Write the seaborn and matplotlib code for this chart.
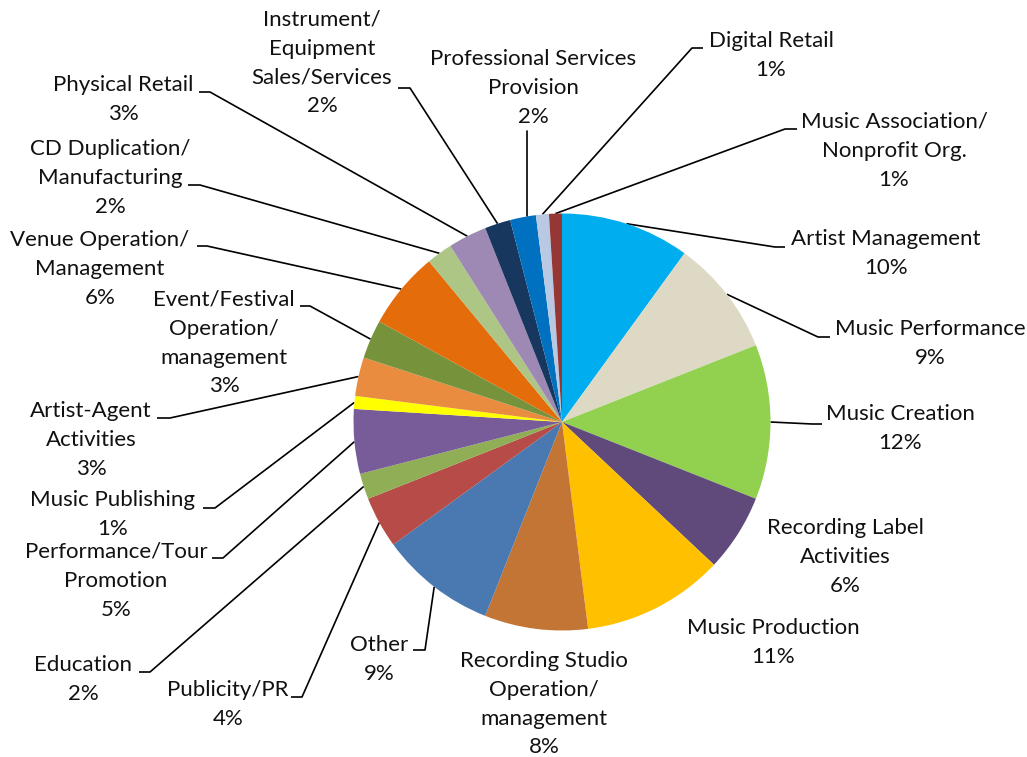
import numpy as np
import matplotlib
matplotlib.use("Agg")
import matplotlib.pyplot as plt
import seaborn as sns

# Share of music-industry businesses by main activity (clockwise from 12 o'clock)
categories = [
    "Artist Management", "Music Performance", "Music Creation",
    "Recording Label\nActivities", "Music Production",
    "Recording Studio\nOperation/\nmanagement", "Other", "Publicity/PR",
    "Education", "Performance/Tour\nPromotion", "Music Publishing",
    "Artist-Agent\nActivities", "Event/Festival\nOperation/\nmanagement",
    "Venue Operation/\nManagement", "CD Duplication/\nManufacturing",
    "Physical Retail", "Instrument/\nEquipment\nSales/Services",
    "Professional Services\nProvision", "Digital Retail",
    "Music Association/\nNonprofit Org.",
]
shares = [10, 9, 12, 6, 11, 8, 9, 4, 2, 5, 1, 3, 3, 6, 2, 3, 2, 2, 1, 1]
slice_colors = [
    "#00AEEF", "#DDD9C4", "#92D050", "#604A7B", "#FFC000",
    "#C27535", "#4A78B0", "#B64B48", "#8FAE55", "#775C99",
    "#FFFF00", "#E98C40", "#76933C", "#E46C0A", "#ADC585",
    "#9D89B4", "#17375E", "#0070C0", "#B9C9E3", "#953735",
]

# Label layout in canvas pixels (x, y measured from the top-left corner):
# centre x of each text block and the y of its first line.
label_pos = [
    (886, 239), (930, 329), (900, 414), (845, 528), (773, 628),
    (544, 661), (379, 645), (228, 690), (83, 665), (116, 552),
    (113, 500), (91, 411), (224, 300), (100, 240), (110, 149),
    (123, 85), (322, 20), (533, 59), (771, 41), (894, 122),
]
# Leader lines: elbow (x, y) and the x where the short horizontal tick ends.
# A tick ending at the elbow's own x means a straight vertical leader.
leaders = [
    (775, 247, 785), (818, 337, 830), (812, 424, 822), None, None,
    None, (425, 650, 413), (302, 697, 291), (150, 672, 139), (223, 558, 212),
    (215, 508, 203), (170, 418, 157), (310, 306, 300), (207, 246, 197), (200, 185, 188),
    (210, 92, 199), (410, 88, 398), (527, 131, 527), (692, 48, 703), (785, 129, 797),
]

W, H = 1027, 757
CX, CY, R = 562, 422, 208.5
LINE_STEP = 28.8

sns.set_theme(style="white")
plt.rcParams["font.family"] = ["Lato", "DejaVu Sans"]

fig = plt.figure(figsize=(W / 100, H / 100), dpi=100)
ax = fig.add_axes([0, 0, 1, 1])


def flip(y):
    return H - y


wedges, _ = ax.pie(
    shares,
    colors=sns.color_palette(slice_colors),
    startangle=90,
    counterclock=False,
    center=(CX, flip(CY)),
    radius=R,
    wedgeprops=dict(linewidth=0),
    frame=True,
)
ax.set_xlim(0, W)
ax.set_ylim(0, H)
ax.set_aspect("equal")
ax.axis("off")

for wedge, name, value, (tx, ty), lead in zip(wedges, categories, shares, label_pos, leaders):
    lines = name.split("\n") + [f"{value}%"]
    for i, line in enumerate(lines):
        ax.text(tx, flip(ty + i * LINE_STEP), line, ha="center", va="center",
                fontsize=16, color="#111111")
    if lead is None:
        continue
    ex, ey, tail = lead
    if tail == ex:
        # vertical leader meets the rim straight below the elbow
        px = ex
        py = flip(CY) + np.sqrt(R ** 2 - (ex - CX) ** 2)
        ax.plot([px, ex], [py, flip(ey)], color="black", lw=1.2, zorder=0)
        continue
    mid = np.deg2rad((wedge.theta1 + wedge.theta2) / 2)
    px = CX + R * np.cos(mid)
    py = flip(CY) + R * np.sin(mid)
    ax.plot([px, ex, tail], [py, flip(ey), flip(ey)], color="black", lw=1.2,
            solid_capstyle="butt", zorder=0)

fig.savefig("out.png", dpi=100, facecolor="white")
